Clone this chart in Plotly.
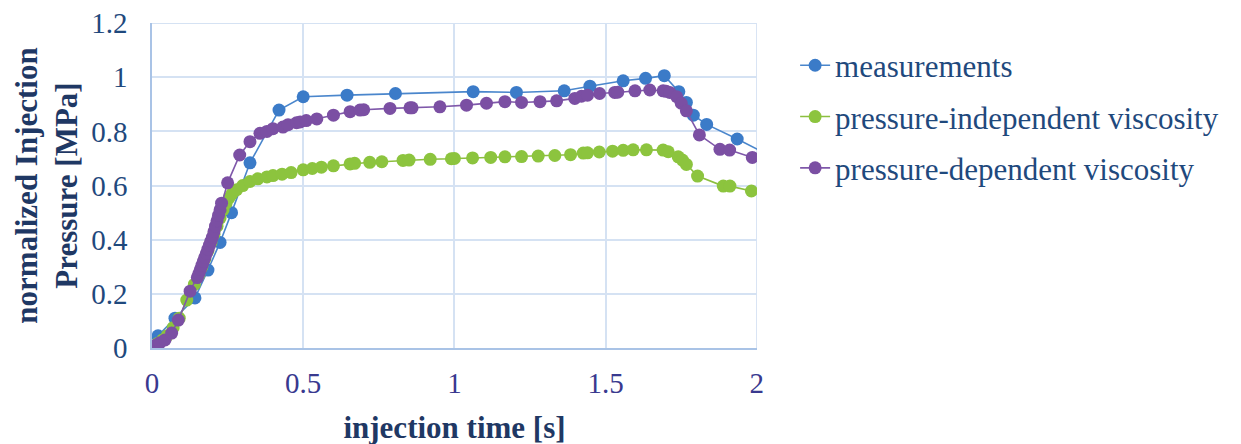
import plotly.graph_objects as go

# measurements
meas_t = [0.0, 0.02, 0.076, 0.142, 0.185, 0.225, 0.263, 0.324, 0.42, 0.50, 0.645, 0.805,
          1.062, 1.205, 1.363, 1.448, 1.558, 1.632, 1.694, 1.742, 1.767, 1.79, 1.834, 1.935, 2.06]
meas_p = [0.0, 0.045, 0.11, 0.185, 0.288, 0.39, 0.50, 0.684, 0.879, 0.928, 0.934, 0.94,
          0.947, 0.944, 0.95, 0.967, 0.987, 0.996, 1.006, 0.947, 0.907, 0.86, 0.826, 0.772, 0.70]

# pressure-independent viscosity
pind_t = [0.0, 0.01, 0.02, 0.035, 0.05, 0.07, 0.09, 0.115, 0.14, 0.155, 0.165, 0.175, 0.185,
          0.195, 0.205, 0.215, 0.225, 0.235, 0.245, 0.255, 0.265, 0.28, 0.30, 0.324, 0.35,
          0.38, 0.40, 0.43, 0.46, 0.50, 0.53, 0.56, 0.60, 0.655, 0.67, 0.72, 0.76, 0.83, 0.85,
          0.92, 0.99, 1.0, 1.06, 1.12, 1.167, 1.222, 1.277, 1.332, 1.384, 1.426, 1.44, 1.479,
          1.523, 1.558, 1.591, 1.635, 1.69, 1.707, 1.74, 1.754, 1.767, 1.804, 1.889, 1.911, 1.982]
pind_p = [0.0, 0.008, 0.018, 0.03, 0.045, 0.075, 0.11, 0.177, 0.235, 0.27, 0.30, 0.33, 0.36,
          0.39, 0.42, 0.45, 0.48, 0.51, 0.535, 0.555, 0.57, 0.585, 0.60, 0.615, 0.625,
          0.632, 0.637, 0.642, 0.648, 0.658, 0.663, 0.668, 0.673, 0.68, 0.682, 0.686, 0.688, 0.693, 0.694,
          0.697, 0.699, 0.70, 0.702, 0.704, 0.706, 0.707, 0.709, 0.711, 0.714, 0.72, 0.721, 0.724,
          0.727, 0.73, 0.732, 0.732, 0.731, 0.725, 0.706, 0.694, 0.678, 0.635, 0.598, 0.598, 0.58]

# pressure-dependent viscosity
pdep_t = [0.0, 0.004, 0.012, 0.026, 0.043, 0.065, 0.087, 0.126, 0.15, 0.155, 0.16, 0.165, 0.17,
          0.175, 0.18, 0.185, 0.19, 0.195, 0.20, 0.205, 0.21, 0.215, 0.22, 0.225, 0.23, 0.25,
          0.29, 0.324, 0.357, 0.38, 0.40, 0.433, 0.45, 0.478, 0.49, 0.51, 0.545, 0.60, 0.655,
          0.688, 0.70, 0.787, 0.853, 0.86, 0.952, 1.04, 1.106, 1.167, 1.222, 1.283, 1.338,
          1.398, 1.42, 1.44, 1.48, 1.53, 1.54, 1.597, 1.646, 1.69, 1.70, 1.712, 1.735, 1.75,
          1.767, 1.81, 1.878, 1.91, 1.985]
pdep_p = [0.0, 0.003, 0.01, 0.019, 0.03, 0.055, 0.103, 0.21, 0.26, 0.275, 0.29, 0.305, 0.32,
          0.335, 0.35, 0.365, 0.38, 0.395, 0.41, 0.43, 0.45, 0.47, 0.49, 0.51, 0.535, 0.61,
          0.713, 0.762, 0.793, 0.80, 0.81, 0.816, 0.825, 0.832, 0.835, 0.84, 0.846, 0.86, 0.873,
          0.879, 0.88, 0.885, 0.887, 0.887, 0.891, 0.897, 0.904, 0.91, 0.907, 0.91, 0.913,
          0.922, 0.93, 0.934, 0.94, 0.944, 0.945, 0.95, 0.953, 0.95, 0.948, 0.944, 0.928, 0.904,
          0.876, 0.787, 0.734, 0.731, 0.704]

x_ticks = [0, 0.5, 1, 1.5, 2]
x_tick_labels = ["0", "0.5", "1", "1.5", "2"]
y_ticks = [0, 0.2, 0.4, 0.6, 0.8, 1.0, 1.2]
y_tick_labels = ["0", "0.2", "0.4", "0.6", "0.8", "1", "1.2"]

FONT = "Liberation Serif, Times New Roman, serif"
GRID = "#d5e2f3"
fig = go.Figure()

series = [
    ("measurements", meas_t, meas_p, "#3b7bc8", "#4a86cc"),
    ("pressure-independent viscosity", pind_t, pind_p, "#8cc43e", "#8cbf3f"),
    ("pressure-dependent viscosity", pdep_t, pdep_p, "#7b4fa3", "#7f58aa"),
]
for i, (name, t, p, mc, lc) in enumerate(series):
    fig.add_trace(go.Scatter(
        x=t, y=p, name=name, mode="lines+markers",
        line=dict(color=lc, width=1.6),
        marker=dict(color=mc, size=13, line=dict(width=0)),
        legendgroup=f"g{i}", cliponaxis=True,
    ))

# edge gridlines at the last ticks (plotly drops gridlines on the plot edge)
fig.add_shape(type="line", xref="x", yref="y", x0=x_ticks[0], x1=x_ticks[-1],
              y0=y_ticks[-1], y1=y_ticks[-1], line=dict(color=GRID, width=1.5), layer="below")
fig.add_shape(type="line", xref="x", yref="y", x0=x_ticks[-1], x1=x_ticks[-1],
              y0=y_ticks[0], y1=y_ticks[-1], line=dict(color=GRID, width=1.5), layer="below")

# page body has an 8px default margin, so margins are offset by 8px
fig.update_layout(
    width=1241, height=444,
    margin=dict(l=144, r=492, t=15, b=104, autoexpand=False),
    paper_bgcolor="white", plot_bgcolor="white",
    font=dict(family=FONT, color="#1f497d"),
    showlegend=True,
    legend=dict(x=1.063, y=0.952, xanchor="left", yanchor="top",
                font=dict(family=FONT, size=31, color="#1f497d"),
                tracegroupgap=8, bgcolor="rgba(0,0,0,0)"),
    xaxis=dict(range=[0, 2.0005], tickvals=x_ticks, ticktext=x_tick_labels,
               showgrid=True, gridcolor=GRID, gridwidth=1.5,
               showline=True, linecolor="#a9c3e6", linewidth=1.5,
               zeroline=False, ticks="", ticklabelstandoff=8, automargin=False,
               ticklabeloverflow="allow",
               tickfont=dict(family=FONT, size=29, color="#39398f"),
               title=dict(text="<b>injection time [s]</b>", standoff=19,
                          font=dict(family=FONT, size=31, color="#1f3864"))),
    yaxis=dict(range=[0, 1.2005], tickvals=y_ticks, ticktext=y_tick_labels,
               showgrid=True, gridcolor=GRID, gridwidth=1.5,
               showline=True, linecolor="#a9c3e6", linewidth=1.5,
               zeroline=False, ticks="", ticklabelstandoff=17, automargin=False,
               ticklabeloverflow="allow",
               tickfont=dict(family=FONT, size=29, color="#1f497d"),
               title=dict(text="<b>normalized Injection<br>Pressure [MPa]</b>", standoff=4,
                          font=dict(family=FONT, size=31, color="#1f3864"))),
)

fig.write_html("out.html")
